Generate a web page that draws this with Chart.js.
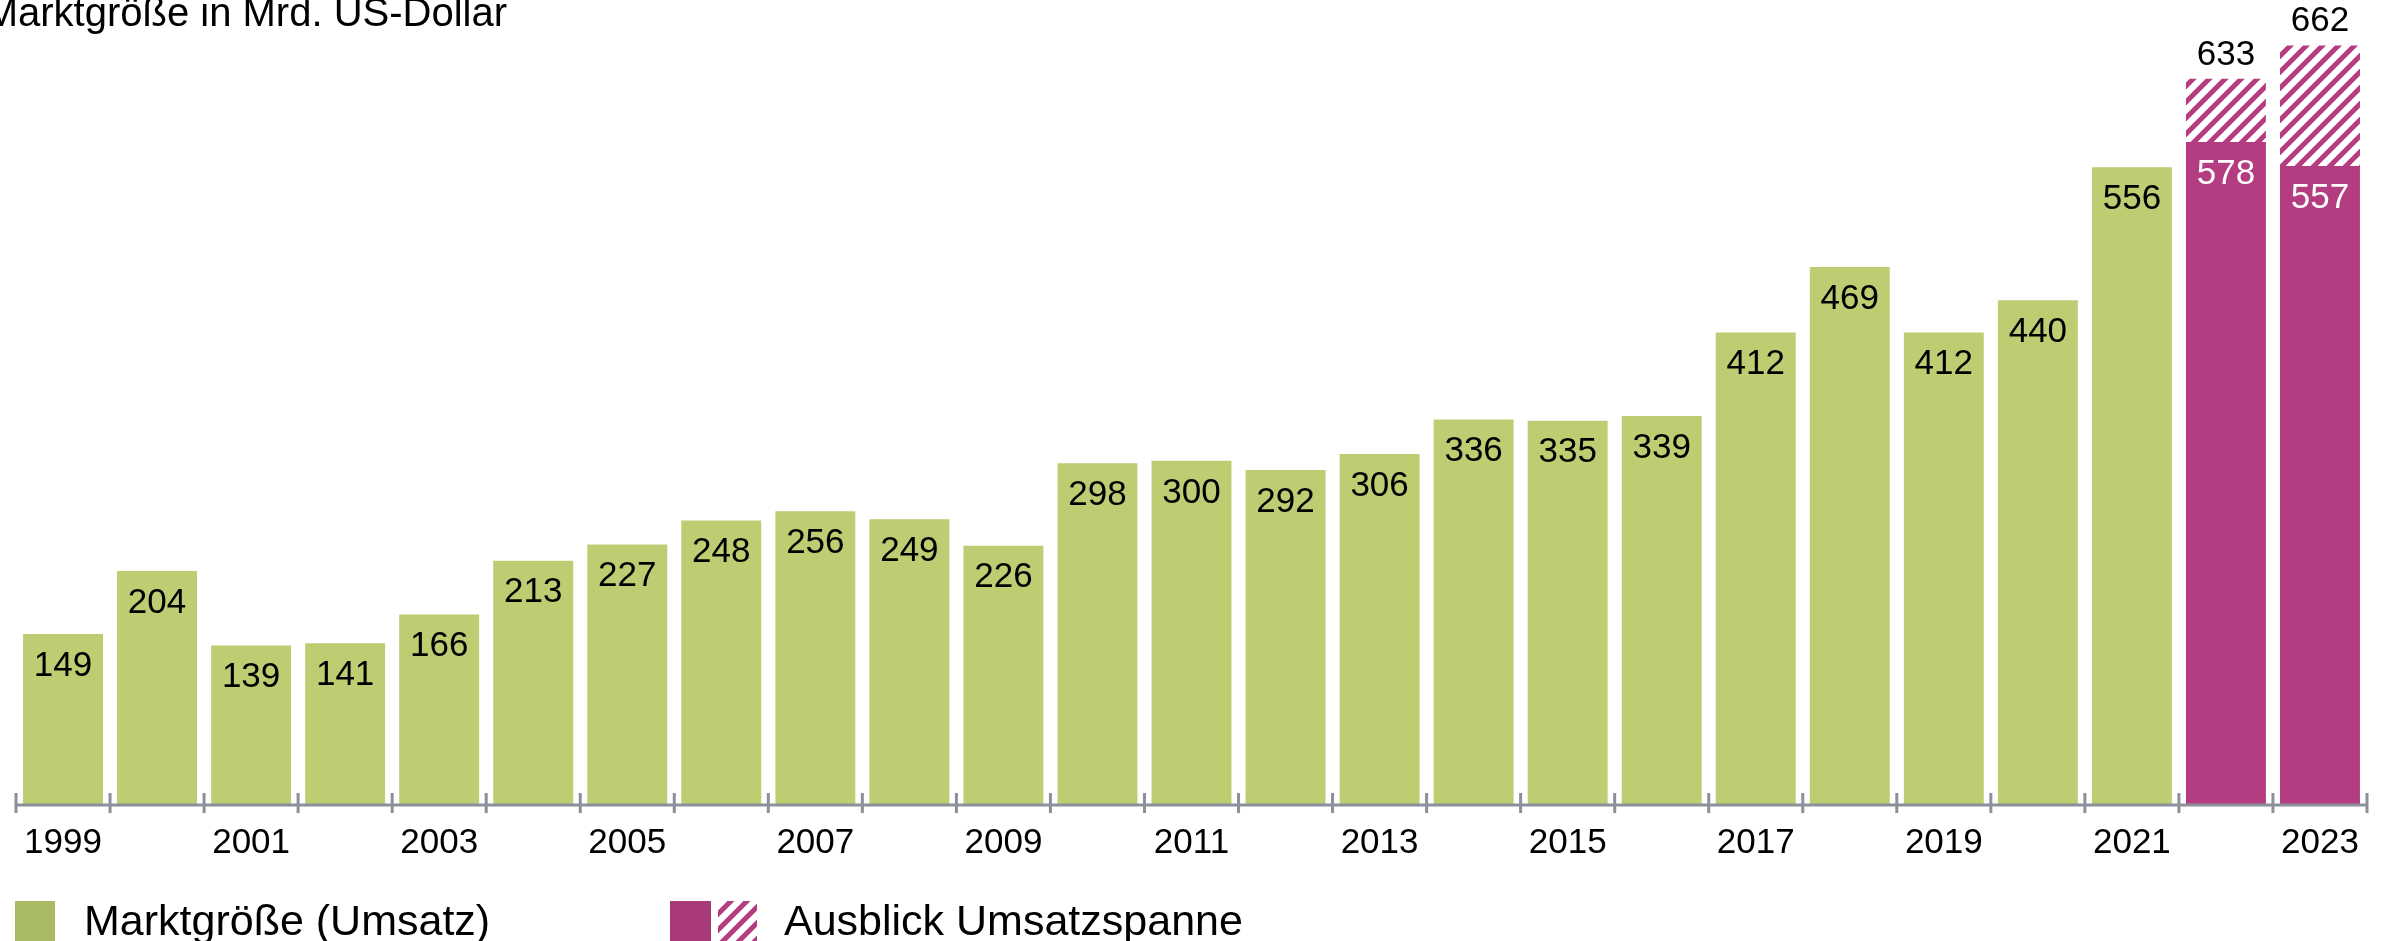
<!DOCTYPE html>
<html lang="de">
<head>
<meta charset="utf-8">
<title>Marktgröße in Mrd. US-Dollar</title>
<script src="https://cdn.jsdelivr.net/npm/chart.js@4"></script>
<style>
    html, body { margin: 0; padding: 0; background: #ffffff; }
    #wrap { position: relative; width: 2387px; height: 941px; }
</style>
</head>
<body>
<div id="wrap"><canvas id="mainChart" width="2387" height="941"></canvas></div>
<script>
// Daten
const years = ['1999', '2000', '2001', '2002', '2003', '2004', '2005', '2006', '2007', '2008', '2009', '2010',
    '2011', '2012', '2013', '2014', '2015', '2016', '2017', '2018', '2019', '2020', '2021', '2022', '2023'];
const marketSize = [149, 204, 139, 141, 166, 213, 227, 248, 256, 249, 226, 298, 300, 292, 306, 336, 335, 339,
    412, 469, 412, 440, 556];
const outlookLow = [578, 557];
const outlookHigh = [633, 662];

const GREEN = '#bccd72';
const GREEN_LEGEND = '#a9bb62';
const MAGENTA = '#b43c80';
const AXIS_GREY = '#8c909a';
const FONT = '"Liberation Sans", Arial, sans-serif';

// Schraffur-Muster (Linien x+y = 0, s, 2s)
function makeHatch() {
    const s = 16;
    const c = document.createElement('canvas');
    c.width = s;
    c.height = s;
    const g = c.getContext('2d');
    g.fillStyle = '#ffffff';
    g.fillRect(0, 0, s, s);
    g.strokeStyle = MAGENTA;
    g.lineWidth = 5;
    g.beginPath();
    for (let k = 0; k <= 2; k++) {
        const d = k * s;
        g.moveTo(d + 4, -4);
        g.lineTo(-4, d + 4);
    }
    g.stroke();
    return g.createPattern(c, 'repeat');
}

const hatch = makeHatch();
const nHist = marketSize.length;
const solidData = marketSize.concat(outlookLow);
const solidColors = solidData.map((v, i) => i < nHist ? GREEN : MAGENTA);
const rangeData = Array(nHist).fill(null).concat(outlookHigh.map((v, i) => v - outlookLow[i]));

// Achse, Werte, Titel und Legende
const decorPlugin = {
    id: 'decor',
    afterDatasetsDraw(chart) {
        const ctx = chart.ctx;
        const area = chart.chartArea;
        const x = chart.scales.x;

        // Achsenlinie + Teilstriche
        ctx.save();
        ctx.strokeStyle = AXIS_GREY;
        ctx.lineWidth = 3;
        ctx.beginPath();
        ctx.moveTo(area.left, area.bottom);
        ctx.lineTo(area.right, area.bottom);
        for (let i = 0; i <= years.length; i++) {
            const px = i === 0 ? area.left : (i === years.length ? area.right
                : (x.getPixelForValue(i - 1) + x.getPixelForValue(i)) / 2);
            ctx.moveTo(px, area.bottom - 12);
            ctx.lineTo(px, area.bottom + 8);
        }
        ctx.stroke();

        // Werte
        ctx.font = '35px ' + FONT;
        ctx.textAlign = 'center';
        ctx.textBaseline = 'middle';
        chart.getDatasetMeta(0).data.forEach((bar, i) => {
            ctx.fillStyle = i < nHist ? '#000000' : '#ffffff';
            ctx.fillText(String(solidData[i]), bar.x, bar.y + 32);
        });
        chart.getDatasetMeta(1).data.forEach((bar, i) => {
            if (rangeData[i] === null) return;
            ctx.fillStyle = '#000000';
            ctx.fillText(String(outlookHigh[i - nHist]), bar.x, bar.y - 24);
        });

        // Titel
        ctx.font = '40px ' + FONT;
        ctx.textAlign = 'right';
        ctx.textBaseline = 'alphabetic';
        ctx.fillStyle = '#000000';
        ctx.fillText('Marktgröße in Mrd. US-Dollar', 507, 26);

        // Legende
        ctx.fillStyle = GREEN_LEGEND;
        ctx.fillRect(15, 901, 40, 40);
        ctx.fillStyle = '#a93a7a';
        ctx.fillRect(670, 901, 41, 40);
        ctx.fillStyle = hatch;
        ctx.fillRect(718, 901, 39, 40);
        ctx.font = '43px ' + FONT;
        ctx.textAlign = 'left';
        ctx.fillStyle = '#000000';
        ctx.fillText('Marktgröße (Umsatz)', 84, 935);
        ctx.fillText('Ausblick Umsatzspanne', 784, 935);
        ctx.restore();
    }
};

const ctx = document.getElementById('mainChart').getContext('2d');
const chart = new Chart(ctx, {
    type: 'bar',
    data: {
        labels: years,
        datasets: [
            {
                label: 'Marktgröße (Umsatz)',
                data: solidData,
                backgroundColor: solidColors,
                borderWidth: 0,
                barPercentage: 0.85,
                categoryPercentage: 1.0
            },
            {
                label: 'Ausblick Umsatzspanne',
                data: rangeData,
                backgroundColor: hatch,
                borderWidth: 0,
                barPercentage: 0.85,
                categoryPercentage: 1.0
            }
        ]
    },
    options: {
        responsive: false,
        animation: false,
        devicePixelRatio: 1,
        layout: {
            padding: { left: 16, right: 20, top: 2, bottom: 0 }
        },
        plugins: {
            legend: { display: false },
            tooltip: { enabled: false },
            title: { display: false }
        },
        scales: {
            x: {
                stacked: true,
                offset: true,
                grid: { display: true, drawOnChartArea: false, drawTicks: false },
                border: { display: false },
                ticks: {
                    autoSkip: false,
                    maxRotation: 0,
                    minRotation: 0,
                    padding: 17,
                    color: '#000000',
                    font: { family: FONT, size: 35 },
                    callback: (v, i) => i % 2 === 0 ? years[i] : ''
                },
                afterFit: (scale) => { scale.height = 136; }
            },
            y: {
                stacked: true,
                display: false,
                min: 0,
                max: 700
            }
        }
    },
    plugins: [decorPlugin]
});
</script>
</body>
</html>
